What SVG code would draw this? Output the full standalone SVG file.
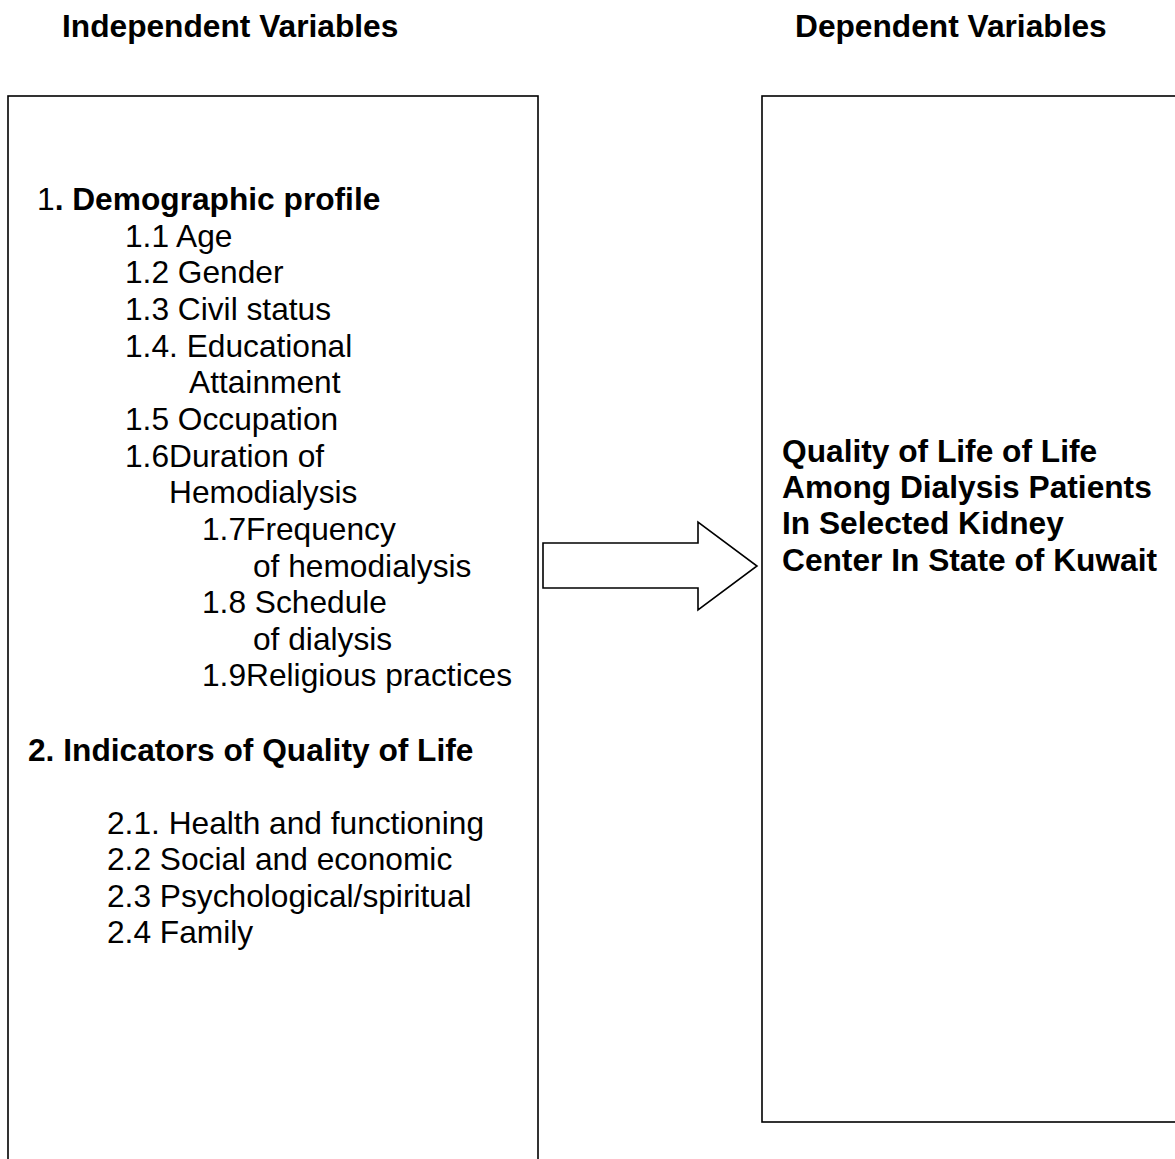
<svg xmlns="http://www.w3.org/2000/svg" width="1175" height="1159" viewBox="0 0 1175 1159">
<style>
text { font-family: "Liberation Sans", Arial, sans-serif; font-size: 31.7px; fill: #000; }
.b { font-weight: bold; }
.box { fill: #fff; stroke: #000; stroke-width: 1.6; }
.arrow { fill: #fff; stroke: #000; stroke-width: 1.6; stroke-linejoin: miter; }
</style>
<rect width="1175" height="1159" fill="#fff"/>
<g id="headers">
<text class="b" x="62" y="37">Independent Variables</text>
<text class="b" x="795" y="37">Dependent Variables</text>
</g>
<g id="independent">
<rect class="box" x="8" y="96" width="530" height="1090"/>
<text x="37" y="210">1<tspan class="b">. Demographic profile</tspan></text>
<text x="125" y="247">1.1 Age</text>
<text x="125" y="283">1.2 Gender</text>
<text x="125" y="320">1.3 Civil status</text>
<text x="125" y="357">1.4. Educational</text>
<text x="189" y="393">Attainment</text>
<text x="125" y="430">1.5 Occupation</text>
<text x="125" y="467">1.6Duration of</text>
<text x="169" y="503">Hemodialysis</text>
<text x="202" y="540">1.7Frequency</text>
<text x="253" y="577">of hemodialysis</text>
<text x="202" y="613">1.8 Schedule</text>
<text x="253" y="650">of dialysis</text>
<text x="202" y="686">1.9Religious practices</text>
<text class="b" x="28" y="761">2. Indicators of Quality of Life</text>
<text x="107" y="834">2.1. Health and functioning</text>
<text x="107" y="870">2.2 Social and economic</text>
<text x="107" y="907">2.3 Psychological/spiritual</text>
<text x="107" y="943">2.4 Family</text>
</g>
<g id="dependent">
<rect class="box" x="762" y="96" width="430" height="1026" stroke-width="2"/>
<text class="b" x="782" y="462">Quality of Life of Life</text>
<text class="b" x="782" y="498">Among Dialysis Patients</text>
<text class="b" x="782" y="534">In Selected Kidney</text>
<text class="b" x="782" y="571">Center In State of Kuwait</text>
</g>
<g id="connectors">
<polygon class="arrow" points="543,543 698,543 698,522 757,566 698,610 698,588 543,588"/>
</g>
</svg>
